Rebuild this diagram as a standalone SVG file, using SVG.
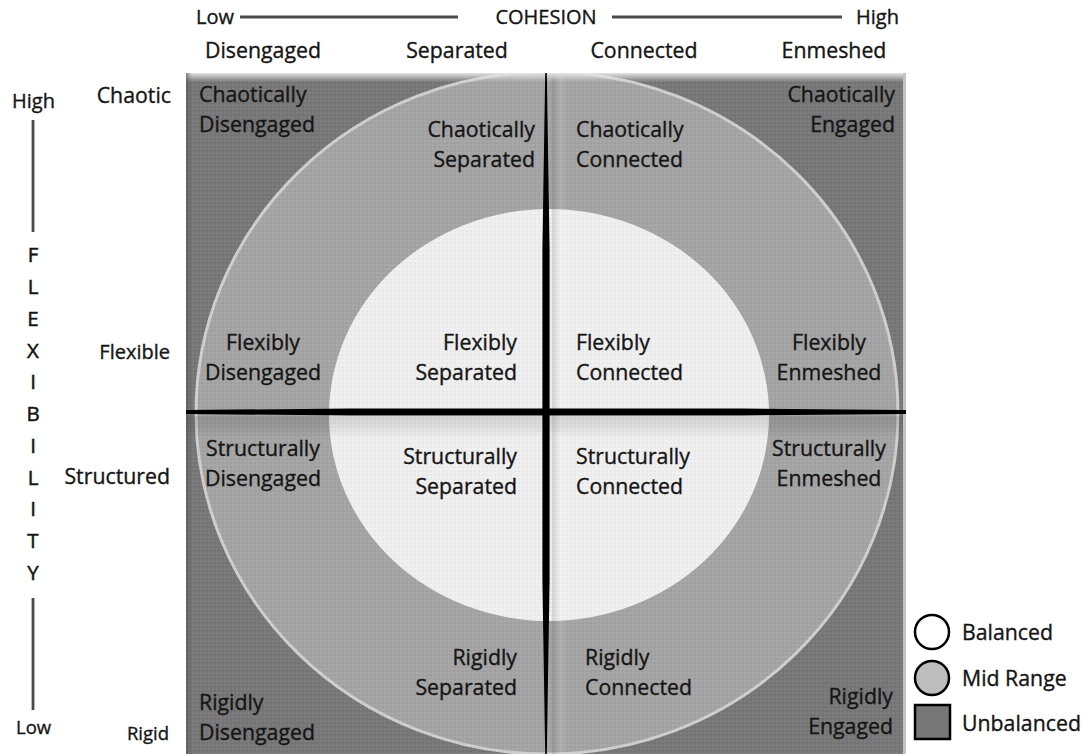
<svg xmlns="http://www.w3.org/2000/svg" width="1081" height="754" viewBox="0 0 1081 754">
<style>
text{font-family:"Open Sans","Liberation Sans",sans-serif;fill:#151515;stroke:#151515;stroke-width:0.35px;}
.q{font-size:21.3px;}
.h{font-size:20px;}
.v{font-size:20.5px;text-anchor:middle;stroke-width:0.5px;}
.e{text-anchor:end;}
.m{text-anchor:middle;}
.axis{stroke:#4a4a4a;stroke-width:2.8;}
</style>
<defs>
<clipPath id="sq"><rect x="186" y="73" width="720" height="690"/></clipPath>
<pattern id="dots" width="4" height="4" patternUnits="userSpaceOnUse">
<circle cx="1" cy="1" r="0.6" fill="#ffffff" opacity="0.22"/>
<circle cx="3" cy="3" r="0.6" fill="#000000" opacity="0.12"/>
</pattern>
<linearGradient id="topbevel" x1="0" y1="0" x2="0" y2="1">
<stop offset="0" stop-color="#e4e4e4"/>
<stop offset="1" stop-color="#e4e4e4" stop-opacity="0"/>
</linearGradient>
<linearGradient id="leftbevel" x1="0" y1="0" x2="1" y2="0">
<stop offset="0" stop-color="#555" stop-opacity="0.6"/>
<stop offset="1" stop-color="#555" stop-opacity="0"/>
</linearGradient>
<linearGradient id="vband" x1="0" y1="0" x2="1" y2="0">
<stop offset="0" stop-color="#000" stop-opacity="0.12"/>
<stop offset="0.5" stop-color="#fff" stop-opacity="0.12"/>
<stop offset="1" stop-color="#fff" stop-opacity="0"/>
</linearGradient>
<linearGradient id="hband" x1="0" y1="0" x2="0" y2="1">
<stop offset="0" stop-color="#000" stop-opacity="0.12"/>
<stop offset="0.5" stop-color="#000" stop-opacity="0.08"/>
<stop offset="1" stop-color="#000" stop-opacity="0"/>
</linearGradient>
</defs>

<g id="grid-background" clip-path="url(#sq)">
<g id="unbalanced-area"><rect x="186" y="73" width="720" height="690" fill="#777777"/></g>
<g id="midrange-area"><ellipse cx="547" cy="413" rx="351" ry="341" fill="#a4a4a4" stroke="#cfcfcf" stroke-width="3"/></g>
<g id="balanced-area"><ellipse cx="549" cy="415" rx="220" ry="206" fill="#efefef"/></g>
<rect x="552" y="73" width="16" height="690" fill="url(#vband)"/>
<rect x="186" y="416" width="720" height="22" fill="url(#hband)"/>
<rect x="186" y="73" width="720" height="690" fill="url(#dots)"/>
<rect x="186" y="73" width="720" height="9" fill="url(#topbevel)"/>
<rect x="186" y="73" width="6" height="690" fill="url(#leftbevel)"/>
<rect x="903" y="73" width="3" height="690" fill="#c4c4c4"/>
</g>

<g id="connectors">
<polygon points="545.2,73 546.8,73 549.6,250 549.6,580 546.8,754 545.2,754 542.4,580 542.4,250" fill="#000"/>
<polygon points="186,410 350,408.5 742,408.5 906,410 906,414 742,415.5 350,415.5 186,414" fill="#000"/>
</g>

<g id="cohesion-axis">
<text class="h" x="196" y="24">Low</text>
<line class="axis" x1="240" y1="17" x2="458" y2="17"/>
<text class="h m" x="546" y="24">COHESION</text>
<line class="axis" x1="612" y1="17" x2="842" y2="17"/>
<text class="h e" x="899" y="24">High</text>
</g>

<g id="column-labels">
<text class="q m" x="263" y="58">Disengaged</text>
<text class="q m" x="457" y="58">Separated</text>
<text class="q m" x="644" y="58">Connected</text>
<text class="q m" x="834" y="58">Enmeshed</text>
</g>

<g id="flexibility-axis">
<text class="h" x="12" y="108">High</text>
<line class="axis" x1="33" y1="120" x2="33" y2="232"/>
<text class="v" x="33" y="262">F</text>
<text class="v" x="33" y="294">L</text>
<text class="v" x="33" y="326">E</text>
<text class="v" x="33" y="358">X</text>
<text class="v" x="33" y="389">I</text>
<text class="v" x="33" y="421">B</text>
<text class="v" x="33" y="453">I</text>
<text class="v" x="33" y="485">L</text>
<text class="v" x="33" y="516">I</text>
<text class="v" x="33" y="548">T</text>
<text class="v" x="33" y="580">Y</text>
<line class="axis" x1="33" y1="598" x2="33" y2="710"/>
<text class="h" x="16" y="734" style="font-size:18.5px">Low</text>
</g>

<g id="row-labels">
<text class="q e" x="171" y="103">Chaotic</text>
<text class="q e" x="170" y="359" style="font-size:20px">Flexible</text>
<text class="q e" x="170" y="484">Structured</text>
<text class="e" x="169" y="740" style="font-size:18.5px">Rigid</text>
</g>

<g id="chaotically-disengaged"><text class="q" x="199" y="102">Chaotically</text><text class="q" x="199" y="132">Disengaged</text></g>
<g id="chaotically-separated"><text class="q e" x="535" y="137">Chaotically</text><text class="q e" x="535" y="167">Separated</text></g>
<g id="chaotically-connected"><text class="q" x="576" y="137">Chaotically</text><text class="q" x="576" y="167">Connected</text></g>
<g id="chaotically-engaged"><text class="q e" x="895" y="102">Chaotically</text><text class="q e" x="895" y="132">Engaged</text></g>

<g id="flexibly-disengaged"><text class="q m" x="263" y="350">Flexibly</text><text class="q m" x="263" y="380">Disengaged</text></g>
<g id="flexibly-separated"><text class="q e" x="517" y="350">Flexibly</text><text class="q e" x="517" y="380">Separated</text></g>
<g id="flexibly-connected"><text class="q" x="576" y="350">Flexibly</text><text class="q" x="576" y="380">Connected</text></g>
<g id="flexibly-enmeshed"><text class="q m" x="829" y="350">Flexibly</text><text class="q m" x="829" y="380">Enmeshed</text></g>

<g id="structurally-disengaged"><text class="q m" x="263" y="456">Structurally</text><text class="q m" x="263" y="486">Disengaged</text></g>
<g id="structurally-separated"><text class="q e" x="517" y="464">Structurally</text><text class="q e" x="517" y="494">Separated</text></g>
<g id="structurally-connected"><text class="q" x="576" y="464">Structurally</text><text class="q" x="576" y="494">Connected</text></g>
<g id="structurally-enmeshed"><text class="q m" x="829" y="456">Structurally</text><text class="q m" x="829" y="486">Enmeshed</text></g>

<g id="rigidly-separated"><text class="q e" x="517" y="665">Rigidly</text><text class="q e" x="517" y="695">Separated</text></g>
<g id="rigidly-connected"><text class="q" x="585" y="665">Rigidly</text><text class="q" x="585" y="695">Connected</text></g>
<g id="rigidly-disengaged"><text class="q" x="199" y="710">Rigidly</text><text class="q" x="199" y="740">Disengaged</text></g>
<g id="rigidly-engaged"><text class="q e" x="893" y="704">Rigidly</text><text class="q e" x="893" y="734">Engaged</text></g>

<g id="legend">
<g id="legend-balanced"><circle cx="932" cy="632" r="17" fill="#ffffff" stroke="#000" stroke-width="2.5"/><text class="q" x="962" y="640">Balanced</text></g>
<g id="legend-midrange"><circle cx="932" cy="678" r="17" fill="#bdbdbd" stroke="#000" stroke-width="2.5"/><text class="q" x="962" y="686">Mid Range</text></g>
<g id="legend-unbalanced"><rect x="915" y="705" width="35" height="34" fill="#777777" stroke="#000" stroke-width="2.5"/><text class="q" x="962" y="731">Unbalanced</text></g>
</g>
</svg>
